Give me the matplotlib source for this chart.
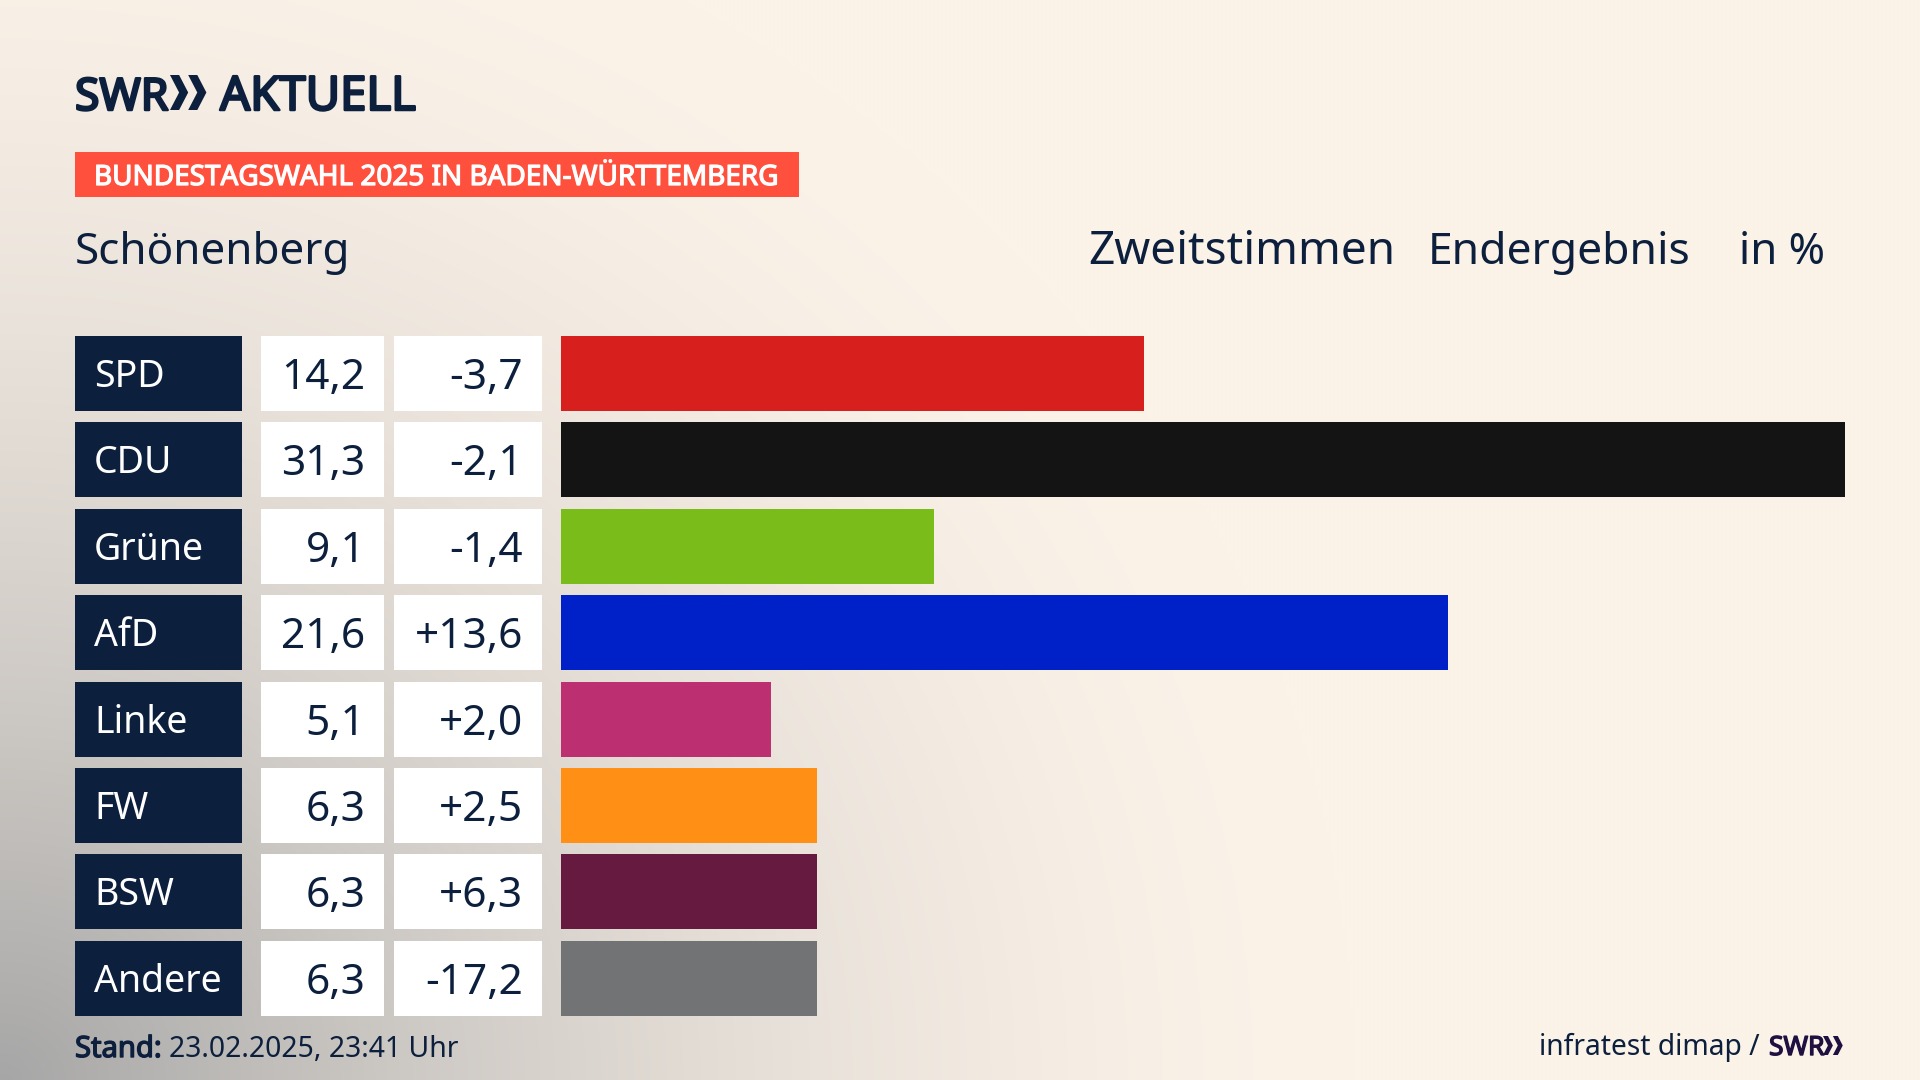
import matplotlib
matplotlib.use('Agg')
import matplotlib.pyplot as plt
import matplotlib.patheffects as pe
import numpy as np
from matplotlib.patches import Rectangle, Polygon

parties = ['SPD', 'CDU', 'Grüne', 'AfD', 'Linke', 'FW', 'BSW', 'Andere']
value_labels = ['14,2', '31,3', '9,1', '21,6', '5,1', '6,3', '6,3', '6,3']
diff_labels = ['-3,7', '-2,1', '-1,4', '+13,6', '+2,0', '+2,5', '+6,3', '-17,2']
# bar lengths as measured, slightly off the printed labels
bar_values = [14.2, 31.3, 9.1, 21.63, 5.13, 6.24, 6.24, 6.24]
colors = ['#D7201E', '#141414', '#7ABD1A', '#0021C8', '#BC3072', '#FF8F15', '#671A3F', '#727375']

NAVY = '#0C1F3D'
CREAM = np.array([0xFB, 0xF2, 0xE8]) / 255
GREY = np.array([0xA6, 0xA6, 0xA6]) / 255
W, H = 1920, 1080
ROW_TOP, ROW_H, ROW_STEP = 336, 75, 86.4

plt.rcParams['font.family'] = ['Noto Sans', 'DejaVu Sans']

fig = plt.figure(figsize=(19.2, 10.8), dpi=100)

# page in pixel coordinates, y pointing down
page = fig.add_axes([0, 0, 1, 1])
page.set_xlim(0, W)
page.set_ylim(H, 0)
page.axis('off')

# grey glow from the lower left corner
xx, yy = np.meshgrid(np.arange(0, W, 4), np.arange(0, H, 4))
dist = np.sqrt((xx / 1350) ** 2 + ((H - yy) / 1250) ** 2)
alpha = np.clip(1 - dist, 0, 1) ** 1.7
bg = CREAM[None, None, :] * (1 - alpha[..., None]) + GREY[None, None, :] * alpha[..., None]
page.imshow(bg, extent=[0, W, H, 0], aspect='auto', interpolation='bilinear', zorder=0)


def chevrons(x, y, h, color):
    w = h * 0.52
    gap = h * 0.52
    for dx in (0, gap):
        pts = [(x + dx, y), (x + dx + w * 0.5, y), (x + dx + w, y + h / 2),
               (x + dx + w * 0.5, y + h), (x + dx, y + h), (x + dx + w * 0.5, y + h / 2)]
        page.add_patch(Polygon(pts, closed=True, color=color, lw=0, zorder=3))


def heavy(lw, color):
    # the installed Noto Sans only comes in regular, thicken it with a stroke
    return [pe.withStroke(linewidth=lw, foreground=color)]


# header
page.text(75, 110, 'SWR', fontsize=32, color=NAVY, va='baseline', path_effects=heavy(1.8, NAVY))
chevrons(170, 75, 35, NAVY)
page.text(220, 110, 'AKTUELL', fontsize=34, color=NAVY, va='baseline', path_effects=heavy(1.8, NAVY))

page.add_patch(Rectangle((75, 152), 724, 45, color='#FF4F3D', lw=0, zorder=2))
page.text(94, 185, 'BUNDESTAGSWAHL 2025 IN BADEN-WÜRTTEMBERG', fontsize=20.1, color='white',
          va='baseline', zorder=3, path_effects=heavy(0.9, 'white'))

page.text(75, 264, 'Schönenberg', fontsize=31.7, color=NAVY, va='baseline')
page.text(1088, 264, 'Zweitstimmen', fontsize=33, color=NAVY, va='baseline')
page.text(1428, 264, 'Endergebnis', fontsize=32, color=NAVY, va='baseline')
page.text(1739, 264, 'in %', fontsize=31.5, color=NAVY, va='baseline')

# table cells left of the bars
for i, party in enumerate(parties):
    top = ROW_TOP + i * ROW_STEP
    page.add_patch(Rectangle((75, top), 167, ROW_H, color=NAVY, lw=0, zorder=2))
    page.add_patch(Rectangle((261, top), 123, ROW_H, color='white', lw=0, zorder=2))
    page.add_patch(Rectangle((394, top), 148, ROW_H, color='white', lw=0, zorder=2))
    page.text(94, top + 51, party, fontsize=27, color='white', va='baseline', zorder=3)
    page.text(365.5, top + 53, value_labels[i], fontsize=30.5, color=NAVY,
              ha='right', va='baseline', zorder=3)
    page.text(523, top + 53, diff_labels[i], fontsize=30.5, color=NAVY,
              ha='right', va='baseline', zorder=3)

# footer
page.text(75, 1057, 'Stand:', fontsize=21, color=NAVY, va='baseline', path_effects=heavy(1.0, NAVY))
page.text(169, 1057, '23.02.2025, 23:41 Uhr', fontsize=20.4, color=NAVY, va='baseline')
page.text(1760, 1055, 'infratest dimap /', fontsize=20.3, color=NAVY, ha='right', va='baseline')
page.text(1769, 1055, 'SWR', fontsize=19, color='#1E1040', va='baseline', path_effects=heavy(1.0, '#1E1040'))
chevrons(1823, 1036, 19, '#1E1040')

# bars
x0, x1 = 561, 1845
bottom = ROW_TOP + 7 * ROW_STEP + ROW_H
ax = fig.add_axes([x0 / W, 1 - bottom / H, (x1 - x0) / W, (bottom - ROW_TOP) / H])
ax.patch.set_alpha(0)
ax.barh(range(len(bar_values)), bar_values, height=ROW_H / ROW_STEP, color=colors)
ax.set_xlim(0, max(bar_values))
pad = ROW_H / 2 / ROW_STEP
ax.set_ylim(len(bar_values) - 1 + pad, -pad)
ax.axis('off')

fig.savefig('out.png', dpi=100)
